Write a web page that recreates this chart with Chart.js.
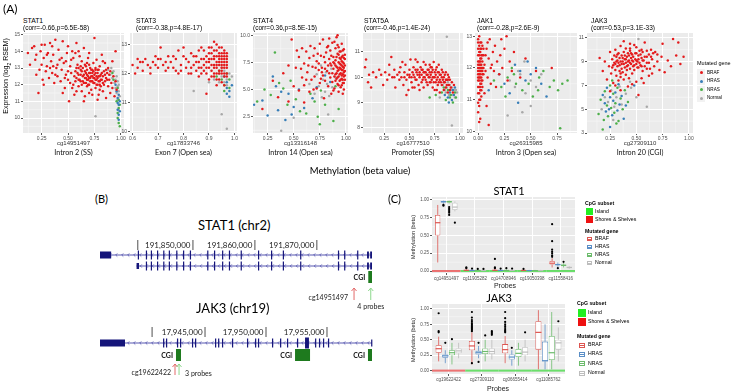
<!DOCTYPE html>
<html>
<head>
<meta charset="utf-8">
<script src="https://cdn.jsdelivr.net/npm/chart.js@4.4.1/dist/chart.umd.min.js"></script>
<style>
  body { margin: 0; width: 732px; height: 391px; background: #fff; position: relative; overflow: hidden;
         font-family: 'Liberation Sans', Arial, sans-serif; }
  .key { position: absolute; }
</style>
</head>
<body>
<script>
// ---------- (A) scatter data: [methylation beta, expression log2 RSEM] ----------
const stat1Braf = [[0.12,13.9],[0.14,13.2],[0.16,14.2],[0.18,14.3],[0.19,13.5],[0.2,12.6],[0.22,11.5],[0.23,12.9],[0.24,14.0],[0.25,13.2],[0.26,12.3],[0.27,13.6],[0.28,14.4],[0.29,12.8],[0.3,13.1],[0.31,13.9],[0.32,12.4],[0.33,14.5],[0.34,13.4],[0.35,12.7],[0.36,13.8],[0.37,12.1],[0.38,14.7],[0.39,13.0],[0.4,12.5],[0.41,14.1],[0.42,13.5],[0.43,12.2],[0.44,12.9],[0.45,14.6],[0.46,13.3],[0.47,11.8],[0.48,12.6],[0.49,13.9],[0.5,12.3],[0.5,14.3],[0.51,11.0],[0.52,13.1],[0.53,12.7],[0.54,14.0],[0.55,12.0],[0.55,13.6],[0.56,11.4],[0.57,12.8],[0.58,14.5],[0.58,12.4],[0.59,13.2],[0.6,11.9],[0.6,12.6],[0.61,13.7],[0.62,12.2],[0.62,12.9],[0.63,11.6],[0.63,13.4],[0.64,12.5],[0.65,12.1],[0.65,14.2],[0.66,12.8],[0.66,11.3],[0.67,12.4],[0.67,13.1],[0.68,12.6],[0.68,11.9],[0.69,12.3],[0.69,13.6],[0.7,12.0],[0.7,12.7],[0.71,12.4],[0.71,13.0],[0.72,11.7],[0.72,12.2],[0.73,12.5],[0.73,12.9],[0.74,12.1],[0.74,13.3],[0.75,14.8],[0.75,12.4],[0.76,11.8],[0.76,12.7],[0.77,12.3],[0.77,13.5],[0.78,12.0],[0.78,12.9],[0.79,11.4],[0.79,12.5],[0.8,12.2],[0.8,13.1],[0.81,11.9],[0.81,12.6],[0.82,13.8],[0.82,12.3],[0.83,11.6],[0.84,12.8],[0.84,12.0],[0.85,13.3],[0.86,12.4],[0.86,11.2],[0.87,12.7],[0.88,11.9],[0.88,13.0],[0.89,12.3],[0.9,11.5],[0.9,12.8],[0.91,12.1],[0.92,13.4],[0.92,11.8],[0.93,12.5],[0.94,11.3],[0.95,12.2],[0.95,14.0],[0.96,11.7],[0.65,11.0],[0.45,11.5],[0.57,13.9],[0.35,14.3],[0.7,13.9],[0.6,14.0],[0.52,12.1],[0.78,11.1],[0.85,12.6],[0.73,11.4],[0.63,12.0],[0.68,13.3],[0.7,11.5],[0.76,13.0],[0.58,11.6],[0.48,13.4],[0.8,11.7],[0.83,13.4],[0.27,12.0],[0.33,13.0],
  [0.56,12.5],[0.57,12.2],[0.59,12.7],[0.6,13.0],[0.61,12.3],[0.62,12.6],[0.63,12.8],[0.64,12.2],[0.64,13.0],[0.65,12.6],[0.66,12.4],[0.66,13.2],[0.67,12.1],[0.67,12.7],[0.68,12.3],[0.68,12.9],[0.69,12.5],[0.69,12.0],[0.7,12.4],[0.7,13.2],[0.71,12.2],[0.71,12.7],[0.72,12.5],[0.72,12.9],[0.73,12.2],[0.73,12.7],[0.74,12.4],[0.74,12.8],[0.75,12.1],[0.75,12.6],[0.76,12.3],[0.76,12.9],[0.77,12.5],[0.77,12.0],[0.78,12.4],[0.78,12.7],[0.79,12.2],[0.79,12.9],[0.8,12.5],[0.8,12.0],[0.81,12.3],[0.82,12.7],[0.83,12.1],[0.83,12.5],[0.85,12.2],[0.86,12.9],[0.87,12.3],[0.89,12.6],[0.6,12.3],[0.62,13.1],[0.5,12.8],[0.47,12.4],[0.44,13.6],[0.4,13.2],[0.38,12.6],[0.36,13.1],[0.3,13.8],[0.25,14.4],[0.2,13.8],[0.53,13.5],[0.58,13.0],[0.54,11.8]];
const stat1Hras = [[0.97,11.2],[0.98,10.8],[0.97,10.5],[0.98,10.2],[0.99,11.0],[0.96,11.6],[0.98,9.9],[0.97,10.9],[0.99,10.4],[0.95,12.0],[0.98,11.4]];
const stat1Nras = [[0.97,10.0],[0.98,9.7],[0.98,10.6],[0.96,11.0],[0.99,9.5],[0.97,11.8],[0.93,12.3],[0.98,11.1],[0.97,10.3],[0.99,10.8],[0.92,12.7]];
const stat1Normal = [[0.9,12.6],[0.92,12.4],[0.94,12.1],[0.95,11.8],[0.96,11.5],[0.97,11.9],[0.98,11.6],[0.97,12.2],[0.96,12.5],[0.99,11.3],[0.98,12.0],[0.93,12.8],[0.91,13.0],[0.95,12.3],[0.97,11.1],[0.98,10.5],[0.76,10.1],[0.88,12.9]];

const stat3Braf = [[0.6,12.3],[0.62,12.2],[0.63,12.4],[0.64,12.1],[0.65,12.5],[0.66,12.3],[0.67,12.0],[0.68,12.4],[0.69,12.6],[0.7,12.2],[0.71,12.9],[0.71,12.5],[0.72,12.3],[0.73,12.1],[0.74,12.6],[0.75,12.4],[0.76,12.2],[0.77,12.5],[0.78,12.8],[0.78,12.0],[0.79,12.3],[0.8,12.6],[0.81,12.2],[0.82,12.4],[0.82,12.0],[0.83,12.7],[0.84,12.3],[0.85,12.1],[0.85,12.6],[0.86,12.4],[0.86,11.9],[0.87,12.5],[0.87,12.2],[0.88,12.8],[0.88,12.3],[0.89,12.0],[0.89,12.6],[0.9,12.4],[0.9,12.2],[0.9,11.8],[0.91,12.7],[0.91,12.5],[0.91,12.1],[0.92,13.1],[0.92,12.3],[0.92,12.6],[0.92,11.9],[0.93,12.4],[0.93,12.8],[0.93,12.2],[0.93,12.0],[0.94,12.5],[0.94,12.7],[0.94,12.3],[0.94,11.8],[0.95,12.6],[0.95,12.4],[0.95,12.9],[0.95,12.1],[0.95,12.2],[0.96,12.5],[0.96,12.3],[0.96,12.7],[0.96,12.0],[0.96,12.8],[0.97,12.4],[0.97,12.6],[0.97,12.2],[0.97,11.9],[0.93,13.0],[0.89,11.3],[0.9,12.9],[0.94,12.0],[0.95,11.7],[0.92,12.5],[0.91,12.9],[0.88,12.1],[0.86,12.8],[0.84,12.6],[0.8,12.9],[0.74,12.2],[0.83,12.2],[0.87,12.9],[0.93,11.6],[0.96,11.6],[0.77,12.1],[0.69,12.3],[0.62,12.5],[0.89,12.4],
  [0.9,12.5],[0.91,12.3],[0.92,12.0],[0.92,12.8],[0.93,12.6],[0.93,12.3],[0.94,12.1],[0.94,12.6],[0.94,12.9],[0.95,12.3],[0.95,12.5],[0.95,12.0],[0.96,12.2],[0.96,12.4],[0.96,12.6],[0.97,12.3],[0.97,12.5],[0.97,12.0],[0.89,12.2],[0.88,12.5],[0.87,12.0],[0.86,12.2],[0.85,12.4],[0.83,12.0],[0.81,12.5],[0.79,12.1],[0.76,12.6],[0.73,12.4],[0.7,12.5],[0.67,12.2],[0.64,12.4],[0.61,12.0],[0.95,12.7],[0.96,11.9],[0.93,11.8],[0.91,11.9],[0.92,12.2],[0.94,12.4],[0.9,12.7],[0.97,12.7]];
const stat3Hras = [[0.97,11.5],[0.98,11.4],[0.97,11.7],[0.98,11.2],[0.96,11.9],[0.99,11.6],[0.97,11.3]];
const stat3Nras = [[0.95,11.8],[0.96,11.6],[0.97,12.0],[0.98,11.8],[0.94,12.1],[0.96,11.4],[0.98,11.5],[0.93,11.9]];
const stat3Normal = [[0.94,12.0],[0.95,11.9],[0.96,11.7],[0.97,11.8],[0.95,12.2],[0.96,12.1],[0.97,11.6],[0.98,12.0],[0.94,11.7],[0.97,10.1],[0.95,10.6],[0.84,11.4],[0.9,11.7],[0.92,11.8],[0.99,11.9]];

const stat4Braf = [[0.2,3.2],[0.3,5.8],[0.35,4.3],[0.4,6.5],[0.45,3.9],[0.48,9.6],[0.5,5.3],[0.52,7.0],[0.55,8.0],[0.55,4.9],[0.58,6.1],[0.6,7.4],[0.6,5.4],[0.62,8.5],[0.63,6.6],[0.65,4.8],[0.65,7.9],[0.67,5.9],[0.68,7.1],[0.7,8.8],[0.7,6.2],[0.72,5.1],[0.72,7.6],[0.74,6.8],[0.75,9.2],[0.75,5.6],[0.76,8.1],[0.77,7.0],[0.78,6.3],[0.78,9.6],[0.8,5.8],[0.8,7.5],[0.81,8.4],[0.82,6.7],[0.83,9.0],[0.83,5.3],[0.84,7.8],[0.85,6.1],[0.85,8.6],[0.86,7.2],[0.87,5.7],[0.87,9.3],[0.88,6.9],[0.88,8.0],[0.89,7.4],[0.89,5.1],[0.9,6.4],[0.9,8.8],[0.9,7.7],[0.91,6.0],[0.91,9.8],[0.91,7.1],[0.92,5.5],[0.92,8.3],[0.92,6.7],[0.93,7.5],[0.93,6.2],[0.93,8.9],[0.94,5.8],[0.94,7.0],[0.94,7.9],[0.95,6.5],[0.95,5.2],[0.95,8.5],[0.95,7.3],[0.96,6.0],[0.96,6.8],[0.96,7.6],[0.96,9.2],[0.97,5.6],[0.97,6.4],[0.97,7.1],[0.97,8.1],[0.98,6.2],[0.98,7.4],[0.98,5.0],[0.99,6.7],[0.99,7.8],[0.99,5.9],[0.98,8.7],[0.96,5.4],[0.93,4.8],[0.89,9.4],[0.86,4.6],[0.79,4.2],[0.73,8.3],[0.66,9.0],[0.57,6.9],[0.88,4.9],[0.97,4.6],[0.84,9.7],[0.92,10.0],[0.62,5.9],[0.69,5.0],[0.76,6.0],[0.53,8.6],[0.45,7.2],[0.6,3.8],
  [0.9,5.8],[0.9,7.2],[0.91,6.5],[0.91,8.0],[0.92,7.0],[0.92,6.1],[0.93,5.4],[0.93,6.8],[0.93,8.2],[0.94,6.4],[0.94,7.4],[0.94,8.5],[0.95,5.9],[0.95,6.9],[0.95,7.8],[0.96,6.3],[0.96,7.2],[0.96,8.0],[0.97,5.9],[0.97,6.8],[0.97,7.5],[0.97,8.6],[0.98,5.6],[0.98,6.6],[0.98,7.0],[0.98,7.9],[0.99,6.3],[0.99,7.2],[0.99,8.2],[0.88,7.5],[0.87,6.5],[0.86,8.1],[0.85,7.4],[0.84,6.5],[0.83,7.2],[0.82,8.9],[0.8,6.9],[0.79,8.0],[0.77,6.6],[0.74,7.4],[0.71,7.0],[0.69,8.1],[0.64,7.2],[0.58,8.8],[0.89,6.2],[0.92,9.1]];
const stat4Hras = [[0.12,3.6],[0.2,4.0],[0.25,2.6],[0.3,6.2],[0.33,5.3],[0.35,3.1],[0.38,4.8],[0.42,2.2],[0.45,4.6],[0.48,2.7],[0.5,3.4],[0.55,5.0],[0.6,3.3],[0.68,4.2],[0.72,5.2],[0.8,6.3],[0.85,5.7]];
const stat4Nras = [[0.15,3.9],[0.22,5.0],[0.28,4.5],[0.32,8.4],[0.36,5.6],[0.4,5.1],[0.44,3.6],[0.47,5.8],[0.52,4.1],[0.56,3.0],[0.62,2.8],[0.66,4.6],[0.7,3.9],[0.73,2.5],[0.76,4.9],[0.8,3.6],[0.88,2.1],[0.93,3.2],[0.75,1.8],[0.9,5.3]];
const stat4Normal = [[0.38,1.2],[0.5,2.4],[0.65,5.5],[0.7,4.6],[0.72,6.4],[0.74,5.3],[0.76,7.2],[0.77,4.3],[0.78,5.9],[0.8,4.8],[0.81,6.6],[0.82,5.5],[0.84,4.4],[0.86,6.9],[0.87,5.2],[0.9,6.1],[0.83,2.7]];

const stat5aBraf = [[0.06,10.4],[0.07,10.7],[0.09,9.8],[0.1,10.1],[0.12,9.6],[0.14,10.2],[0.17,10.0],[0.2,10.3],[0.22,10.1],[0.24,9.7],[0.26,10.2],[0.28,9.9],[0.3,10.5],[0.32,10.8],[0.33,10.0],[0.35,10.3],[0.36,9.6],[0.38,10.1],[0.4,9.9],[0.41,10.4],[0.42,10.0],[0.44,9.7],[0.45,10.2],[0.46,10.5],[0.47,9.9],[0.48,10.1],[0.49,9.5],[0.5,10.3],[0.5,10.0],[0.51,10.7],[0.52,9.8],[0.53,10.2],[0.54,10.4],[0.55,9.6],[0.55,10.0],[0.56,10.3],[0.57,9.9],[0.58,10.1],[0.58,10.6],[0.59,9.7],[0.6,10.2],[0.6,10.0],[0.61,10.4],[0.62,9.8],[0.62,10.1],[0.63,10.3],[0.64,9.6],[0.64,10.0],[0.65,10.2],[0.66,10.5],[0.66,9.9],[0.67,10.1],[0.68,9.7],[0.68,10.3],[0.69,10.0],[0.7,10.2],[0.7,9.8],[0.71,10.4],[0.71,10.1],[0.72,9.9],[0.73,10.3],[0.73,9.6],[0.74,10.0],[0.74,10.6],[0.75,10.2],[0.76,9.8],[0.76,10.1],[0.77,9.5],[0.77,10.4],[0.78,10.0],[0.78,9.7],[0.79,10.2],[0.8,9.9],[0.8,9.4],[0.81,10.1],[0.82,9.7],[0.82,10.3],[0.83,9.9],[0.84,9.5],[0.84,10.0],[0.85,9.8],[0.86,10.2],[0.86,9.6],[0.87,9.9],[0.88,9.4],[0.88,10.1],[0.89,9.7],[0.9,9.5],[0.9,9.9],[0.91,9.6],[0.92,9.8],[0.93,9.4],[0.94,9.7],[0.56,10.7],[0.43,10.6],[0.47,9.3],[0.64,10.6],[0.7,10.5],[0.79,10.5],[0.75,9.5],[0.6,9.5],[0.53,9.6],
  [0.6,10.1],[0.62,10.3],[0.63,9.9],[0.65,10.0],[0.66,10.2],[0.67,9.8],[0.68,10.1],[0.69,10.3],[0.7,10.0],[0.71,9.8],[0.72,10.2],[0.73,10.0],[0.74,9.8],[0.75,10.0],[0.76,10.3],[0.77,9.9],[0.78,10.2],[0.79,9.8],[0.8,10.1],[0.81,9.8],[0.82,10.0],[0.83,10.2],[0.84,9.8],[0.85,10.1],[0.86,9.9],[0.87,9.7],[0.88,9.9],[0.89,10.0],[0.5,10.1],[0.52,10.0],[0.54,10.1],[0.56,9.9],[0.57,10.2],[0.45,10.0],[0.4,10.2],[0.35,10.0],[0.3,10.1],[0.58,10.3],[0.64,10.2],[0.72,10.4]];
const stat5aHras = [[0.85,9.3],[0.88,9.2],[0.9,9.4],[0.92,9.1],[0.94,9.3],[0.95,9.6],[0.89,9.0],[0.93,9.5]];
const stat5aNras = [[0.82,9.4],[0.86,9.1],[0.88,9.5],[0.91,9.3],[0.93,9.0],[0.95,9.4],[0.96,9.2],[0.84,9.6],[0.9,9.2],[0.7,9.2],[0.76,9.3]];
const stat5aNormal = [[0.83,9.7],[0.85,9.5],[0.87,9.6],[0.89,9.3],[0.9,9.7],[0.91,9.5],[0.92,9.6],[0.93,9.3],[0.94,9.5],[0.95,9.2],[0.96,9.5],[0.97,9.4],[0.86,9.4],[0.88,9.8],[0.87,11.6],[0.92,8.1],[0.8,9.2]];

const jak1Braf = [[0.0,12.9],[0.01,12.7],[0.02,12.5],[0.0,12.4],[0.03,12.3],[0.01,12.2],[0.02,12.1],[0.0,12.0],[0.04,11.9],[0.01,11.8],[0.03,11.7],[0.0,11.6],[0.02,11.5],[0.01,11.4],[0.03,11.3],[0.0,11.2],[0.02,11.0],[0.01,10.8],[0.0,10.6],[0.02,12.8],[0.03,12.6],[0.01,12.0],[0.04,12.2],[0.02,11.9],[0.0,11.9],[0.03,12.0],[0.01,11.6],[0.04,11.6],[0.02,11.7],[0.0,12.6],[0.05,12.4],[0.05,11.8],[0.01,12.4],[0.03,11.5],[0.0,11.4],[0.02,12.3],[0.04,12.7],[0.01,13.0],[0.0,10.9],[0.03,11.1],[0.02,10.4],[0.01,10.3],[0.06,12.1],[0.07,11.9],[0.08,12.6],[0.09,11.7],[0.1,12.3],[0.11,12.9],[0.12,11.5],[0.13,12.1],[0.14,12.5],[0.15,11.9],[0.16,12.7],[0.18,12.2],[0.2,11.8],[0.21,12.4],[0.23,12.0],[0.25,12.6],[0.27,13.0],[0.28,11.6],[0.3,12.2],[0.32,11.9],[0.34,12.5],[0.4,11.7],[0.45,12.3],[0.55,11.9],[0.7,12.0],[0.06,11.2],[0.08,10.8],[0.1,10.2],[0.09,12.8],[0.07,12.4],[0.12,12.0],[0.17,11.4],[0.22,12.9],
  [0.0,12.2],[0.01,12.5],[0.02,12.6],[0.03,12.4],[0.01,11.9],[0.02,11.8],[0.03,11.9],[0.0,11.8],[0.04,12.0],[0.01,12.1],[0.02,12.2],[0.03,12.1],[0.0,12.1],[0.04,11.8],[0.02,12.0],[0.01,11.7],[0.03,11.6],[0.0,11.7],[0.02,11.4],[0.01,11.2],[0.04,12.4],[0.05,12.0],[0.03,12.8],[0.0,12.8],[0.02,11.3],[0.01,11.0],[0.04,11.4],[0.05,12.6]];
const jak1Hras = [[0.1,11.3],[0.2,11.8],[0.25,11.5],[0.35,12.1],[0.4,11.9],[0.45,11.6],[0.5,11.8],[0.55,12.0],[0.6,11.5],[0.38,10.9],[0.65,11.1],[0.3,11.2],[0.47,12.2]];
const jak1Nras = [[0.15,11.6],[0.22,11.4],[0.28,11.7],[0.32,12.0],[0.36,11.5],[0.42,11.3],[0.48,11.5],[0.52,11.1],[0.58,11.7],[0.62,11.9],[0.68,11.4],[0.72,11.6],[0.76,11.3],[0.8,11.5],[0.85,11.6],[0.26,11.1],[0.78,10.1],[0.34,11.8],[0.57,11.3]];
const jak1Normal = [[0.3,11.6],[0.35,11.4],[0.4,11.8],[0.45,11.2],[0.5,11.6],[0.55,11.4],[0.44,12.2],[0.6,11.8],[0.28,10.5],[0.5,10.8],[0.38,11.9],[0.42,10.6]];

const jak3Braf = [[0.15,9.3],[0.18,8.2],[0.2,9.0],[0.22,7.5],[0.24,8.6],[0.25,9.8],[0.26,8.0],[0.27,9.2],[0.28,7.2],[0.28,8.7],[0.29,9.5],[0.3,8.3],[0.3,10.0],[0.31,7.8],[0.31,9.0],[0.32,8.6],[0.32,9.6],[0.33,7.4],[0.33,8.9],[0.34,8.2],[0.34,9.3],[0.35,10.3],[0.35,7.7],[0.36,8.8],[0.36,9.5],[0.37,8.1],[0.37,9.0],[0.38,7.5],[0.38,9.8],[0.39,8.5],[0.39,9.2],[0.4,7.9],[0.4,8.9],[0.4,10.1],[0.41,9.4],[0.41,8.3],[0.42,8.7],[0.42,9.7],[0.43,7.6],[0.43,9.1],[0.44,8.4],[0.44,9.9],[0.45,8.8],[0.45,9.3],[0.46,8.0],[0.46,9.6],[0.47,8.6],[0.47,9.0],[0.48,10.4],[0.48,8.3],[0.49,9.2],[0.5,8.8],[0.5,9.7],[0.5,7.3],[0.51,9.0],[0.52,8.5],[0.52,9.5],[0.53,9.9],[0.54,8.7],[0.55,9.3],[0.56,8.2],[0.56,9.8],[0.57,9.1],[0.58,10.6],[0.58,8.6],[0.6,9.4],[0.6,8.9],[0.62,9.6],[0.63,8.4],[0.64,10.0],[0.65,9.2],[0.67,8.6],[0.68,9.8],[0.7,9.0],[0.72,8.3],[0.74,9.4],[0.75,10.5],[0.77,8.1],[0.8,9.1],[0.83,8.6],[0.85,10.9],[0.88,9.5],[0.9,10.6],[0.92,8.8],[0.95,9.4],[0.35,6.6],[0.42,6.9],[0.3,7.0],[0.46,7.1],[0.55,7.6],[0.62,7.8],[0.38,10.7],[0.44,10.5],[0.25,6.5],[0.52,6.2],[0.57,7.2],[0.65,8.0],
  [0.3,8.8],[0.32,9.1],[0.34,8.7],[0.35,9.0],[0.36,8.4],[0.37,9.3],[0.38,8.8],[0.39,9.5],[0.4,9.2],[0.41,8.6],[0.42,9.0],[0.43,9.5],[0.44,8.9],[0.45,9.7],[0.46,9.1],[0.47,9.4],[0.48,8.7],[0.49,9.7],[0.5,9.1],[0.51,8.5],[0.52,9.2],[0.53,8.9],[0.54,9.6],[0.55,8.6],[0.56,9.1],[0.58,9.4],[0.6,9.9],[0.62,8.9],[0.64,9.4],[0.35,8.0],[0.33,9.7],[0.29,8.9],[0.27,8.5],[0.31,9.4],[0.44,10.1],[0.5,10.2],[0.55,10.0],[0.6,8.4],[0.66,9.7],[0.7,9.6]];
const jak3Hras = [[0.18,6.2],[0.2,5.5],[0.22,6.8],[0.24,5.0],[0.25,6.0],[0.27,4.5],[0.28,5.7],[0.3,6.4],[0.32,4.9],[0.34,5.4],[0.36,6.1],[0.38,4.2],[0.4,5.3],[0.21,4.8],[0.33,7.1],[0.48,7.0],[0.25,3.5]];
const jak3Nras = [[0.14,4.6],[0.16,5.8],[0.19,4.1],[0.2,6.5],[0.22,5.3],[0.23,4.4],[0.25,7.0],[0.26,5.1],[0.28,6.3],[0.29,4.7],[0.3,5.5],[0.32,6.8],[0.33,4.0],[0.35,5.9],[0.37,5.0],[0.39,6.6],[0.42,5.6],[0.18,3.3],[0.27,7.4],[0.31,3.8]];
const jak3Normal = [[0.17,5.0],[0.2,6.0],[0.23,5.6],[0.26,6.6],[0.29,5.2],[0.31,6.0],[0.34,6.9],[0.36,5.4],[0.4,6.3],[0.45,6.8],[0.6,5.2],[0.5,6.0],[0.28,4.1],[0.52,10.9],[0.44,7.3]];

const panelNames = ['STAT1','STAT3','STAT4','STAT5A','JAK1','JAK3'];
const panelStats = ['(corr=-0.66,p=6.5E-58)','(corr=-0.38,p=4.8E-17)','(corr=0.36,p=8.5E-15)','(corr=-0.46,p=1.4E-24)','(corr=-0.28,p=2.6E-9)','(corr=0.53,p=3.1E-33)'];
const panelProbes = ['cg14951497','cg17833746','cg13316148','cg16777510','cg26315985','cg27309110'];
const panelRegions = ['Intron 2 (SS)','Exon 7 (Open sea)','Intron 14 (Open sea)','Promoter (SS)','Intron 3 (Open sea)','Intron 20 (CGI)'];
const xTickSets = [[0.25,0.5,0.75,1],[0.6,0.7,0.8,0.9,1],[0.25,0.5,0.75,1],[0.25,0.5,0.75,1],[0,0.25,0.5,0.75],[0.25,0.5,0.75,1]];
const yTickSets = [[10,11,12,13,14,15],[10,11,12,13],[2.5,5,7.5,10],[8,9,10,11],[10,11,12,13],[3,5,7,9,11]];
const mutGenes = ['BRAF','HRAS','NRAS','Normal'];

// ---------- (C) boxplot data: [lower whisker, q1, median, q3, upper whisker] per probe ----------
const stat1Probes = ['cg14951497','cg11905282','cg14708946','cg19050398','cg11558416'];
const stat1Cpg = ['Shores','Island','Island','Island','Island'];
const stat1BoxBraf = [[0.12,0.50,0.68,0.79,0.93],[0,0.005,0.01,0.015,0.025],[0,0.005,0.01,0.015,0.03],[0,0.004,0.008,0.012,0.02],[0.05,0.09,0.11,0.14,0.18]];
const stat1BoxHras = [[0.95,0.965,0.975,0.985,0.99],[0,0.004,0.008,0.012,0.02],[0,0.004,0.008,0.012,0.02],[0,0.003,0.006,0.01,0.015],[0.06,0.08,0.09,0.1,0.12]];
const stat1BoxNras = [[0.95,0.965,0.975,0.985,0.99],[0,0.004,0.008,0.012,0.02],[0,0.004,0.008,0.012,0.02],[0,0.003,0.006,0.01,0.015],[0.05,0.07,0.08,0.09,0.11]];
const stat1BoxNormal = [[0.84,0.86,0.9,0.96,0.98],[0,0.004,0.008,0.012,0.02],[0,0.004,0.008,0.012,0.02],[0,0.003,0.006,0.01,0.015],[0.03,0.04,0.05,0.06,0.07]];
const stat1OutBraf = [[],[0.04,0.05],[0.17,0.05,0.04],[0.03],[0.2,0.22,0.25,0.27,0.3,0.42,0.66]];
const stat1OutHras = [[0.93,0.92],[0.035],[0.035],[],[0.04]];
const stat1OutNras = [[0.9,0.88,0.86,0.84,0.82,0.79],[0.03],[0.04],[],[0.13]];
const stat1OutNormal = [[0.68],[0.03],[0.035],[],[]];

const jak3Probes = ['cg19622422','cg27309110','cg06655414','cg11085762'];
const jak3Cpg = ['Shores','Island','Island','Island'];
const jak3BoxBraf = [[0.15,0.29,0.355,0.41,0.55],[0.1,0.33,0.4,0.48,0.62],[0.12,0.28,0.34,0.43,0.56],[0.02,0.34,0.62,0.8,0.98]];
const jak3BoxHras = [[0.12,0.21,0.24,0.26,0.33],[0.2,0.26,0.29,0.32,0.4],[0.08,0.18,0.22,0.26,0.33],[0.02,0.15,0.16,0.47,0.75]];
const jak3BoxNras = [[0.1,0.25,0.29,0.33,0.45],[0.15,0.27,0.31,0.36,0.5],[0.08,0.22,0.28,0.35,0.45],[0.02,0.17,0.29,0.56,0.95]];
const jak3BoxNormal = [[0.2,0.28,0.32,0.36,0.45],[0.18,0.27,0.31,0.36,0.5],[0.15,0.25,0.3,0.38,0.5],[0.15,0.34,0.45,0.5,0.7]];
const jak3OutBraf = [[0.62,0.64,0.93],[0.64,0.66,0.68,0.7,0.72,0.74,0.76,0.79,0.82,0.86,0.95,0.12],[0.62,0.64,0.66,0.69,0.72,0.75,0.79,0.85,0.95],[]];
const jak3OutHras = [[0.45],[0.45,0.14],[0.37],[]];
const jak3OutNras = [[0.51],[0.57],[],[]];
const jak3OutNormal = [[],[0.58,0.6,0.62,0.64],[0.62],[0.8]];

// ---------- (B) gene models, positions in kb ----------
const stat1Narrow = [191841.1,191842.4,191843.2,191844.2,191845.2,191846.1,191847.3,191848.4,191849.5,191852.3,191853.4,191854.7,191855.8,191857.7,191860.5,191862.6,191864.5,191867.3,191873.4,191874.4,191876.5];
const stat1Ruler = [191850, 191860, 191870];
const jak3Narrow = [17941.56,17941.8,17942.7,17942.95,17943.93,17944.18,17945.82,17946.07,17946.39,17947.21,17948.44,17949.1,17949.34,17950.49,17951.15,17951.72,17952.54,17954.02,17954.34,17954.67,17955.08];
const jak3Ruler = [17945, 17950, 17955];
const jak3Cgi = [[17942.62,17943.03],[17952.38,17953.61],[17958.36,17958.69]];

// ---------- helpers ----------
Chart.defaults.font.family = "'Liberation Sans', Arial, sans-serif";
Chart.defaults.animation = false;
Chart.defaults.events = [];
Chart.defaults.plugins.legend.display = false;
Chart.defaults.plugins.tooltip.enabled = false;

const mutColors = ['#E41A1C', '#377EB8', '#4DAF4A', '#A8A8A8'];
const boxColors = ['#DD5550', '#5A8EC6', '#6CBB6C', '#BDBDBD'];
const navy = '#15157A';
const calibri = "Lato, 'Open Sans', sans-serif";

function makeCanvas(left, top, w, h) {
  const c = document.createElement('canvas');
  c.width = w; c.height = h;
  c.style.cssText = `position:absolute;left:${left}px;top:${top}px;width:${w}px;height:${h}px`;
  document.body.appendChild(c);
  return c;
}

function txt(s, x, y, o = {}) {
  const d = document.createElement('div');
  d.innerHTML = s;
  const ax = o.align === 'left' ? '0' : o.align === 'right' ? '-100%' : '-50%';
  d.style.cssText = `position:absolute;left:${x}px;top:${y}px;white-space:nowrap;line-height:1;` +
    `font-size:${o.size || 7}px;font-family:${o.font || "'Liberation Sans', Arial, sans-serif"};` +
    `color:${o.color || '#000'};font-weight:${o.bold ? 'bold' : 'normal'};` +
    `transform:translate(${ax},-50%)${o.rot ? ' rotate(-90deg)' : ''}`;
  document.body.appendChild(d);
}

function box(x, y, w, h, css) {
  const d = document.createElement('div');
  d.className = 'key';
  d.style.cssText += `left:${x}px;top:${y}px;width:${w}px;height:${h}px;box-sizing:border-box;` + css;
  document.body.appendChild(d);
  return d;
}

// grey panel + thin minor grid lines, ggplot style
const panelBg = {
  id: 'panelBg',
  beforeDraw(chart) {
    const { ctx, chartArea: a } = chart;
    ctx.save();
    ctx.fillStyle = '#EBEBEB';
    ctx.fillRect(a.left, a.top, a.right - a.left, a.bottom - a.top);
    ctx.strokeStyle = '#FAFAFA';
    ctx.lineWidth = 0.5;
    for (const id of ['x', 'y']) {
      const s = chart.scales[id];
      if (s.type === 'category') continue;
      const v = s.ticks.map(t => t.value);
      const step = v[1] - v[0];
      const mids = [v[0] - step / 2, ...v.map(t => t + step / 2)];
      for (const m of mids) {
        if (m <= s.min || m >= s.max) continue;
        const p = s.getPixelForValue(m);
        ctx.beginPath();
        if (id === 'x') { ctx.moveTo(p, a.top); ctx.lineTo(p, a.bottom); }
        else { ctx.moveTo(a.left, p); ctx.lineTo(a.right, p); }
        ctx.stroke();
      }
    }
    ctx.restore();
  }
};

function linAxis(range, ticks, dec, horiz, size, fs) {
  return {
    type: 'linear', min: range[0], max: range[1], bounds: 'data',
    afterBuildTicks: s => { s.ticks = ticks.map(v => ({ value: v })); },
    afterFit: s => {
      if (horiz) s.height = size; else s.width = size;
      s.paddingLeft = s.paddingRight = s.paddingTop = s.paddingBottom = 0;
    },
    grid: { color: '#fff', lineWidth: 1, tickColor: '#555', tickLength: 2 },
    border: { display: false },
    ticks: { font: { size: fs }, color: '#4d4d4d', padding: 1, autoSkip: false, maxRotation: 0,
             callback: v => Number(v).toFixed(dec) }
  };
}

// ---------- (A) ----------
const scatterBoxes = [[23,33,124,133],[130,33,237,133],[253,33,348,133],[363,33,463,133],[475,33,577,133],[587,33,693,133]];
const scatterRanges = [
  [[0.074,1.03],[9.1,15.1]], [[0.59,1.01],[9.95,13.4]], [[0.11,1.02],[1.0,10.2]],
  [[0.04,1.03],[7.8,11.75]], [[-0.03,0.94],[9.95,13.1]], [[0.03,1.04],[3.0,11.4]]
];
const scatterSeries = [
  [stat1Braf, stat1Hras, stat1Nras, stat1Normal],
  [stat3Braf, stat3Hras, stat3Nras, stat3Normal],
  [stat4Braf, stat4Hras, stat4Nras, stat4Normal],
  [stat5aBraf, stat5aHras, stat5aNras, stat5aNormal],
  [jak1Braf, jak1Hras, jak1Nras, jak1Normal],
  [jak3Braf, jak3Hras, jak3Nras, jak3Normal]
];
const xDec = [2, 1, 2, 2, 2, 2];
const yDec = [0, 0, 1, 0, 0, 0];

scatterBoxes.forEach((b, i) => {
  const YW = 13, XH = 9, P = 4;
  const [l, t, r, btm] = b;
  const c = makeCanvas(l - YW, t - P, r - l + YW + P, btm - t + XH + P);
  new Chart(c, {
    type: 'scatter',
    data: {
      datasets: scatterSeries[i].map((pts, g) => ({
        data: pts.map(p => ({ x: p[0], y: p[1] })),
        backgroundColor: mutColors[g], borderWidth: 0, pointRadius: 1.25
      }))
    },
    options: {
      responsive: false,
      layout: { padding: { top: P, right: P, left: 0, bottom: 0 } },
      scales: {
        x: linAxis(scatterRanges[i][0], xTickSets[i], xDec[i], true, XH, 5),
        y: linAxis(scatterRanges[i][1], yTickSets[i], yDec[i], false, YW, 5)
      }
    },
    plugins: [panelBg]
  });
  const cx = (l + r) / 2;
  const titleX = [23, 136, 253, 364, 477, 591][i];
  txt(panelNames[i], titleX, 21, { align: 'left', size: 6.8 });
  txt(panelStats[i], titleX, 28, { align: 'left', size: 6.5 });
  txt(panelProbes[i], cx, 143, { size: 6, color: '#333' });
  txt(panelRegions[i], cx, 153, { size: 7.2, font: calibri, color: '#111' });
});

txt('(A)', 3, 9, { align: 'left', size: 12, font: calibri });
txt('Expression (log<sub style="font-size:5px">2</sub> RSEM)', 7, 76, { size: 7, rot: true });
txt('Methylation (beta value)', 360, 171, { size: 9.5, font: calibri });

// legend (A)
txt('Mutated gene', 697, 64, { align: 'left', size: 5.5 });
mutGenes.forEach((g, k) => {
  const y = [72.7, 81.2, 89.7, 98.2][k];
  box(697, y - 4, 8, 8, 'background:#F2F2F2;');
  box(699.5, y - 1.5, 3, 3, `background:${mutColors[k]};border-radius:50%;`);
  txt(g, 707, y, { align: 'left', size: 4.6 });
});

// ---------- (B) gene models ----------
function genePanel(cfg) {
  const [cl, ct, cw, ch] = cfg.canvas;
  const c = makeCanvas(cl, ct, cw, ch);
  const padL = 100 - cl, padR = cl + cw - 372;
  new Chart(c, {
    type: 'scatter',
    data: {
      datasets: cfg.tracks.map(tr => ({
        data: [{ x: tr.from, y: tr.row }, { x: tr.to, y: tr.row }],
        showLine: true, borderColor: '#4545A8', borderWidth: 0.9, pointRadius: 0
      }))
    },
    options: {
      responsive: false,
      layout: { padding: { left: padL, right: padR, top: 0, bottom: 0 } },
      scales: {
        x: { type: 'linear', min: cfg.xr[0], max: cfg.xr[1], display: false },
        y: { type: 'linear', min: 0, max: ch, reverse: true, display: false }
      }
    },
    plugins: [{
      id: 'geneDraw',
      afterDatasetsDraw(chart) {
        const { ctx } = chart;
        const X = v => chart.scales.x.getPixelForValue(v);
        const Y = v => chart.scales.y.getPixelForValue(v);
        ctx.save();
        // strand chevrons on introns
        ctx.strokeStyle = '#4545A8'; ctx.lineWidth = 0.7;
        cfg.tracks.forEach(tr => {
          const y = Y(tr.row);
          for (let p = X(tr.from) + 4; p < X(tr.to) - 2; p += 6) {
            ctx.beginPath(); ctx.moveTo(p + 1.3, y - 1.6); ctx.lineTo(p - 0.3, y); ctx.lineTo(p + 1.3, y + 1.6); ctx.stroke();
          }
        });
        // exons
        ctx.fillStyle = navy;
        cfg.tracks.forEach(tr => {
          const y = Y(tr.row);
          tr.exons.forEach(e => {
            const x0 = X(e[0]); const w = Math.max(X(e[1]) - x0, 1.2);
            ctx.fillRect(x0, y - e[2] / 2, w, e[2]);
          });
        });
        // ruler
        ctx.strokeStyle = '#222'; ctx.lineWidth = 0.8;
        ctx.fillStyle = '#222'; ctx.font = `8px ${calibri}`;
        ctx.textAlign = 'right'; ctx.textBaseline = 'middle';
        const ry = Y(cfg.rulerRow);
        [cfg.rulerStart, ...cfg.ruler].forEach((v, k) => {
          const p = X(v);
          ctx.beginPath(); ctx.moveTo(p, ry - 5); ctx.lineTo(p, ry + 5); ctx.stroke();
          if (k > 0) ctx.fillText(v.toLocaleString('en-US') + ',000', p - 2.5, ry + 0.5);
        });
        // CpG islands
        cfg.cgi.forEach(g => {
          ctx.fillStyle = '#1E7A1E';
          ctx.fillRect(X(g[0]), Y(cfg.cgiRow) - 6, Math.max(X(g[1]) - X(g[0]), 3), 12);
          ctx.fillStyle = '#111'; ctx.font = `bold 7px ${calibri}`;
          ctx.textAlign = 'right';
          ctx.fillText('CGI', X(g[0]) - 3, Y(cfg.cgiRow) + 0.5);
        });
        // probe arrows
        cfg.arrows.forEach(a => {
          const p = X(a[0]);
          ctx.strokeStyle = a[1]; ctx.lineWidth = 1;
          const yh = Y(cfg.arrowHead), yt = Y(cfg.arrowTail);
          ctx.beginPath(); ctx.moveTo(p, yt); ctx.lineTo(p, yh);
          ctx.moveTo(p - 2.5, yh + 3); ctx.lineTo(p, yh); ctx.lineTo(p + 2.5, yh + 3); ctx.stroke();
        });
        ctx.fillStyle = '#222'; ctx.font = `7px ${calibri}`;
        cfg.labels.forEach(lb => {
          ctx.textAlign = lb.align;
          ctx.fillText(lb.text, X(lb.at) + lb.dx, Y(lb.row));
        });
        ctx.restore();
      }
    }]
  });
}

const stat1Main = [[191835.0, 191836.8, 7], ...stat1Narrow.map(v => [v, v + 0.15, 9]), [191878.1, 191878.4, 7], [191878.6, 191878.9, 7]];
const stat1Alt = [[191840.9, 191841.3, 6], ...stat1Narrow.slice(1).map(v => [v, v + 0.15, 9]), [191878.1, 191878.4, 7], [191878.6, 191878.9, 7]];
genePanel({
  canvas: [90, 236, 305, 78], xr: [191835.0, 191878.9],
  tracks: [{ from: 191835.0, to: 191878.9, row: 19, exons: stat1Main },
           { from: 191840.9, to: 191878.9, row: 30, exons: stat1Alt }],
  ruler: stat1Ruler, rulerStart: 191841.1, rulerRow: 9,
  cgi: [[191878.3, 191878.9]], cgiRow: 41,
  arrows: [[191876.0, '#E36A6A'], [191878.7, '#8CD88C']], arrowHead: 52, arrowTail: 64,
  labels: [{ text: 'cg14951497', at: 191876.0, dx: -6, row: 62, align: 'right' },
           { text: '4 probes', at: 191878.7, dx: 0, row: 71, align: 'center' }]
});

const jak3Exons = [[17936.39, 17938.44, 7], ...jak3Narrow.map(v => [v, v + 0.1, 9]), [17953.2, 17953.52, 11], [17958.62, 17958.69, 7]];
genePanel({
  canvas: [90, 320, 305, 60], xr: [17936.39, 17958.69],
  tracks: [{ from: 17936.39, to: 17958.69, row: 23, exons: jak3Exons }],
  ruler: jak3Ruler, rulerStart: 17940.66, rulerRow: 12,
  cgi: jak3Cgi, cgiRow: 35,
  arrows: [[17942.54, '#E36A6A'], [17942.87, '#8CD88C']], arrowHead: 44, arrowTail: 55,
  labels: [{ text: 'cg19622422', at: 17942.54, dx: -4, row: 53, align: 'right' },
           { text: '3 probes', at: 17942.87, dx: 6, row: 54, align: 'left' }]
});

txt('(B)', 95, 198, { align: 'left', size: 11, font: calibri });
txt('STAT1 (chr2)', 198, 225, { align: 'left', size: 13, font: calibri });
txt('JAK3 (chr19)', 196, 308, { align: 'left', size: 13, font: calibri });

// ---------- (C) boxplots ----------
function boxPanel(p) {
  const YW = 12, XH = 8, P = 4;
  const [l, t, r, b] = p.box;
  const c = makeCanvas(l - YW, t - P, r - l + YW + P, b - t + XH + P);
  const n = p.probes.length;
  new Chart(c, {
    type: 'bar',
    data: {
      labels: p.probes,
      datasets: p.stats.map((st, g) => ({
        data: st.map(s => [s[1], s[3]]), stats: st, out: p.out[g],
        backgroundColor: '#fff', borderColor: boxColors[g], borderWidth: 0.8, borderSkipped: false,
        categoryPercentage: 0.8, barPercentage: 0.92
      }))
    },
    options: {
      responsive: false,
      layout: { padding: { top: P, right: P, left: 0, bottom: 0 } },
      scales: {
        x: {
          grid: { color: '#fff', lineWidth: 1, offset: false, tickColor: '#555', tickLength: 2 },
          border: { display: false },
          afterFit: s => { s.height = XH; s.paddingLeft = s.paddingRight = 0; },
          ticks: { font: { size: 4.5 }, color: '#4d4d4d', padding: 1, maxRotation: 0, autoSkip: false }
        },
        y: linAxis(p.yr, [0, 0.25, 0.5, 0.75, 1], 2, false, YW, 4.5)
      }
    },
    plugins: [panelBg, {
      id: 'cpgStrip',
      beforeDatasetsDraw(chart) {
        const { ctx } = chart, xs = chart.scales.x, ys = chart.scales.y;
        const half = (xs.right - xs.left) / n / 2, y0 = ys.getPixelForValue(0);
        ctx.save();
        p.cpg.forEach((s, k) => {
          ctx.fillStyle = s === 'Island' ? 'rgba(70,215,70,0.8)' : 'rgba(232,80,80,0.8)';
          ctx.fillRect(xs.getPixelForValue(k) - half, y0 - 1, half * 2, 2);
        });
        ctx.restore();
      }
    }, {
      id: 'whiskers',
      afterDatasetsDraw(chart) {
        const { ctx } = chart, Y = v => chart.scales.y.getPixelForValue(v);
        ctx.save();
        chart.data.datasets.forEach((ds, i) => {
          chart.getDatasetMeta(i).data.forEach((el, j) => {
            const s = ds.stats[j], x = el.x, w = el.width;
            ctx.strokeStyle = ds.borderColor; ctx.lineWidth = 0.8;
            ctx.beginPath();
            ctx.moveTo(x, Y(s[0])); ctx.lineTo(x, Y(s[1]));
            ctx.moveTo(x, Y(s[3])); ctx.lineTo(x, Y(s[4]));
            ctx.stroke();
            ctx.lineWidth = 1.2;
            ctx.beginPath(); ctx.moveTo(x - w / 2, Y(s[2])); ctx.lineTo(x + w / 2, Y(s[2])); ctx.stroke();
            ctx.fillStyle = '#000';
            ds.out[j].forEach(o => { ctx.beginPath(); ctx.arc(x, Y(o), 1.1, 0, Math.PI * 2); ctx.fill(); });
          });
        });
        ctx.restore();
      }
    }]
  });
}

boxPanel({
  box: [432, 197, 575, 273], yr: [-0.028, 1.042], probes: stat1Probes, cpg: stat1Cpg,
  stats: [stat1BoxBraf, stat1BoxHras, stat1BoxNras, stat1BoxNormal],
  out: [stat1OutBraf, stat1OutHras, stat1OutNras, stat1OutNormal]
});
boxPanel({
  box: [432, 304, 565, 374], yr: [-0.055, 1.08], probes: jak3Probes, cpg: jak3Cpg,
  stats: [jak3BoxBraf, jak3BoxHras, jak3BoxNras, jak3BoxNormal],
  out: [jak3OutBraf, jak3OutHras, jak3OutNras, jak3OutNormal]
});

txt('(C)', 388, 198, { align: 'left', size: 11, font: calibri });
txt('STAT1', 509, 190, { size: 11, font: calibri });
txt('JAK3', 499, 297, { size: 11, font: calibri });
txt('Methylation (beta)', 414, 237, { size: 5.5, rot: true, color: '#222' });
txt('Methylation (beta)', 414, 340, { size: 5.5, rot: true, color: '#222' });
txt('Probes', 505, 285, { size: 7, color: '#222' });
txt('Probes', 498, 388, { size: 7, color: '#222' });

function boxLegend(x, top, step, sw, cpgY) {
  txt('CpG subset', x, top, { align: 'left', size: 5.2, bold: true });
  [['Island', '#22EE22'], ['Shores &amp; Shelves', '#EE1111']].forEach((it, k) => {
    const y = cpgY[k];
    box(x + 1, y - sw / 2, sw, sw, `background:${it[1]};`);
    txt(it[0], x + sw + 3, y, { align: 'left', size: 5.2 });
  });
  const my = cpgY[1] + step * 1.6;
  txt('Mutated gene', x, my, { align: 'left', size: 5.2, bold: true });
  mutGenes.forEach((g, k) => {
    const y = my + step * (k + 1) - 1;
    box(x + 1, y - sw / 2, sw, sw, 'background:#fff;');
    box(x + 2, y - sw / 2 + 1.5, sw - 2, sw - 3, `border:0.8px solid ${boxColors[k]};background:#fff;`);
    box(x + 2, y - 0.4, sw - 2, 0.9, `background:${boxColors[k]};`);
    txt(g, x + sw + 3, y, { align: 'left', size: 5.2 });
  });
}
boxLegend(585, 204, 8, 7, [211.5, 219.5]);
boxLegend(577, 304, 9.3, 8, [313, 322]);
</script>
</body>
</html>
